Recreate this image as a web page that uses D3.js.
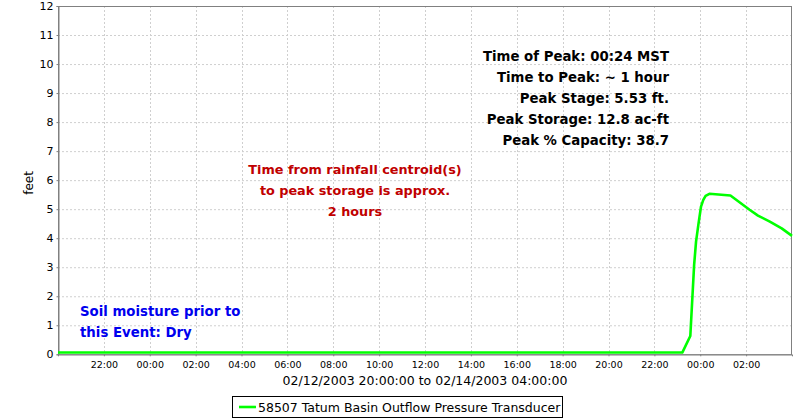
<!DOCTYPE html>
<html><head><meta charset="utf-8">
<script src="https://cdn.jsdelivr.net/npm/d3@7"></script>
<style>
html,body{margin:0;padding:0;background:#fff;}
svg{display:block;font-family:"DejaVu Sans",sans-serif;}
</style></head>
<body><svg id="c" width="800" height="420"></svg>
<script>
// ---- data ----
const times = ["2003-02-12 20:00","2003-02-12 23:00","2003-02-13 02:00","2003-02-13 05:00","2003-02-13 08:00",
  "2003-02-13 11:00","2003-02-13 14:00","2003-02-13 17:00","2003-02-13 20:00","2003-02-13 23:13",
  "2003-02-13 23:34","2003-02-13 23:44","2003-02-13 23:49","2003-02-13 23:55","2003-02-14 00:02",
  "2003-02-14 00:08","2003-02-14 00:14","2003-02-14 00:24","2003-02-14 01:19","2003-02-14 02:09",
  "2003-02-14 02:31","2003-02-14 03:02","2003-02-14 03:33","2003-02-14 04:00"];
const stage = [0.06,0.06,0.06,0.06,0.06,0.06,0.06,0.06,0.06,0.06,
  0.63,3.08,3.88,4.46,5.09,5.32,5.46,5.53,5.47,4.98,4.78,4.57,4.34,4.08];
const yTicks = [0,1,2,3,4,5,6,7,8,9,10,11,12];
const xTickLabels = ["22:00","00:00","02:00","04:00","06:00","08:00","10:00","12:00","14:00","16:00","18:00","20:00","22:00","00:00","02:00"];
const xDomain = ["2003-02-12 20:00","2003-02-14 04:00"];
const peakNotes = ["Time of Peak: 00:24 MST","Time to Peak: ~ 1 hour","Peak Stage: 5.53 ft.","Peak Storage: 12.8 ac-ft","Peak % Capacity: 38.7"];
const centroidNotes = ["Time from rainfall centroid(s)","to peak storage is approx.","2 hours"];
const soilNotes = ["Soil moisture prior to","this Event: Dry"];
const axisTitle = "02/12/2003 20:00:00 to 02/14/2003 04:00:00";
const yTitle = "feet";
const seriesName = "58507 Tatum Basin Outflow Pressure Transducer";

// ---- chart ----
const parse = d3.utcParse("%Y-%m-%d %H:%M");
const data = times.map((t,i)=>({t:parse(t), v:stage[i]}));
const L=58, R=792, T=6, B=354.3;
const x = d3.scaleUtc().domain(xDomain.map(parse)).range([L,R]);
const y = d3.scaleLinear().domain([0,12]).range([B,T]);
const svg = d3.select("#c");
const gridCol="#cfcfcf", axisCol="#808080";

const xTickDates = d3.utcHour.every(2).range(parse("2003-02-12 22:00"), parse("2003-02-14 04:00"));

// grid
svg.append("g").selectAll("line").data(yTicks.filter(d=>d>0&&d<12)).join("line")
  .attr("x1",L).attr("x2",R).attr("y1",d=>y(d)+0.5).attr("y2",d=>y(d)+0.5)
  .attr("stroke",gridCol).attr("stroke-dasharray","2,2").attr("stroke-width",1);
svg.append("g").selectAll("line").data(xTickDates).join("line")
  .attr("x1",d=>Math.round(x(d))+0.5).attr("x2",d=>Math.round(x(d))+0.5).attr("y1",T).attr("y2",B)
  .attr("stroke",gridCol).attr("stroke-dasharray","2,2").attr("stroke-width",1);

// plot outline
svg.append("rect").attr("x",L+0.5).attr("y",T+0.5).attr("width",R-L-1).attr("height",B-T)
  .attr("fill","none").attr("stroke",axisCol).attr("stroke-width",1);

// axes
const yAxis = d3.axisLeft(y).tickValues(yTicks).tickSize(2).tickPadding(3).tickFormat(d3.format("d"));
const gy = svg.append("g").attr("transform",`translate(${L+0.5},0)`).call(yAxis);
gy.select(".domain").attr("stroke",axisCol);
gy.selectAll(".tick line").attr("stroke",axisCol);
gy.selectAll("text").attr("font-size","11px").attr("fill","#000").attr("font-family","DejaVu Sans");

const xAxis = d3.axisBottom(x).tickValues(xTickDates).tickSize(2).tickPadding(5)
  .tickFormat((d,i)=>xTickLabels[i]);
const gx = svg.append("g").attr("transform",`translate(0,${B})`).call(xAxis);
gx.select(".domain").attr("stroke",axisCol);
gx.selectAll(".tick line").attr("stroke",axisCol);
gx.selectAll("text").attr("font-size","9.5px").attr("fill","#000").attr("font-family","DejaVu Sans");

svg.append("text").attr("x",(L+R)/2).attr("y",385).attr("text-anchor","middle")
  .attr("font-size","12.5px").text(axisTitle);
svg.append("text").attr("transform","translate(33,183) rotate(-90)").attr("text-anchor","middle")
  .attr("font-size","12px").text(yTitle);

// line
const line = d3.line().x(d=>x(d.t)).y(d=>y(d.v));
svg.append("path").datum(data).attr("d",line).attr("fill","none")
  .attr("stroke","#00ff00").attr("stroke-width",2.6).attr("stroke-linejoin","round");

// annotations
svg.append("g").selectAll("text").data(peakNotes).join("text")
  .attr("x",669).attr("y",(d,i)=>61+i*21).attr("text-anchor","end")
  .attr("font-size","13.3px").attr("font-weight","bold").attr("fill","#000").text(d=>d);
svg.append("g").selectAll("text").data(centroidNotes).join("text")
  .attr("x",355).attr("y",(d,i)=>174+i*21).attr("text-anchor","middle")
  .attr("font-size","12.8px").attr("font-weight","bold").attr("fill","#c00000").text(d=>d);
svg.append("g").selectAll("text").data(soilNotes).join("text")
  .attr("x",80).attr("y",(d,i)=>316+i*21).attr("text-anchor","start")
  .attr("font-size","13.3px").attr("font-weight","bold").attr("fill","#0000ee").text(d=>d);

// legend
svg.append("rect").attr("x",232.5).attr("y",396.5).attr("width",330).attr("height",21)
  .attr("fill","#fff").attr("stroke","#000").attr("stroke-width",1);
svg.append("line").attr("x1",239).attr("x2",256).attr("y1",407).attr("y2",407)
  .attr("stroke","#00ff00").attr("stroke-width",2.6);
svg.append("text").attr("x",258).attr("y",411.5).attr("font-size","12.5px").attr("fill","#000").text(seriesName);
</script></body></html>
